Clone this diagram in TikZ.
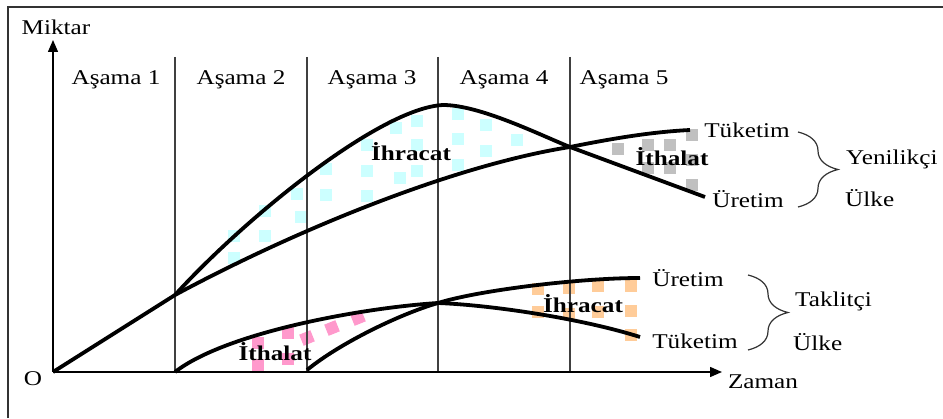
\documentclass[tikz,border=0pt]{standalone}
\usepackage{fontspec}
\setmainfont{Liberation Serif}
\usetikzlibrary{arrows.meta,decorations.pathreplacing}

\definecolor{cyanbox}{HTML}{CCFFFF}
\definecolor{graybox}{HTML}{C0C0C0}
\definecolor{pinkbox}{HTML}{FF99CC}
\definecolor{peachbox}{HTML}{FFCC99}

\tikzset{
  curve/.style={line width=3.8pt},
  stageline/.style={line width=1.2pt, black!75},
  axis/.style={line width=1.4pt, -{Triangle[length=12pt,width=10pt]}},
  lbl/.style={font=\fontsize{21}{25}\selectfont, xscale=1.2, transform shape, inner sep=0pt, anchor=base},
  boldlbl/.style={lbl, font=\fontsize{21}{25}\selectfont\bfseries},
  brc/.style={decorate, decoration={brace, amplitude=40pt}, line width=1.2pt, black!80}
}

\begin{document}
\begin{tikzpicture}[x=1pt, y=1pt]
    \useasboundingbox (0,0) rectangle (943,418);

    % frame
    \draw[line width=1.4pt, black!80] (8,0) -- (8,411) -- (943,411);

    % key points
    \coordinate (O) at (53,46);
    \coordinate (ytop) at (53,378);
    \coordinate (xend) at (722,46);
    \coordinate (A) at (175,123);
    \coordinate (P) at (443,313);
    \coordinate (X) at (570,271);
    \coordinate (Xi) at (438,115);

    % colored boxes
    \foreach \x/\y in {234/182, 234/160, 265/207, 265/182, 297/224, 301/201, 326/249, 326/223,
                       367/273, 367/247, 367/222, 396/290, 400/240, 417/297, 417/273, 417/247,
                       458/304, 458/279, 458/253, 486/293, 486/267, 517/278}
        \fill[cyanbox] (\x-6,\y-6) rectangle (\x+6,\y+6);
    \foreach \x/\y in {618/269, 648/273, 648/250, 670/273, 670/250, 692/283, 692/258, 692/233}
        \fill[graybox] (\x-6,\y-6) rectangle (\x+6,\y+6);
    \foreach \x/\y in {258/75, 258/53, 288/85, 288/59}
        \fill[pinkbox] (\x-6,\y-6) rectangle (\x+6,\y+6);
    \foreach \x/\y in {307/80, 332/90, 358/100}
        \fill[pinkbox, rotate around={22:(\x,\y)}] (\x-6,\y-6) rectangle (\x+6,\y+6);
    \foreach \x/\y in {538/129, 538/106, 569/130, 569/104, 598/132, 598/106, 631/132, 631/107, 631/83}
        \fill[peachbox] (\x-6,\y-6) rectangle (\x+6,\y+6);

    % stages
    \foreach \x in {175,307,438,570}
        \draw[stageline] (\x,361) -- (\x,46);
    \node[lbl] (s1) at (116,333) {Aşama 1};
    \node[lbl] (s2) at (241,333) {Aşama 2};
    \node[lbl] (s3) at (372,333) {Aşama 3};
    \node[lbl] (s4) at (504,333) {Aşama 4};
    \node[lbl] (s5) at (624,333) {Aşama 5};

    % axes
    \draw[axis] (O) -- (ytop);
    \draw[axis] (O) -- (xend);
    \node[lbl] (miktar) at (56,383) {Miktar};
    \node[lbl] (zaman) at (763,30) {Zaman};
    \node[lbl] (orig) at (33,33) {O};

    % innovator country
    \draw[curve] (O) -- (A);
    \draw[curve] (A) .. controls (290,185) and (450,252) .. (X)
                     .. controls (610,279) and (650,286) .. (690,288);
    \draw[curve] (A) .. controls (245,200) and (380,310) .. (P)
                     .. controls (480,313) and (540,283) .. (X) -- (705,221);

    % imitator country
    \draw[curve] (175,46) .. controls (225,85) and (360,110) .. (Xi)
                          .. controls (490,113) and (580,100) .. (640,81);
    \draw[curve] (307,48) .. controls (340,75) and (400,104) .. (Xi)
                          .. controls (480,128) and (580,140) .. (640,140);

    % trade labels
    \node[boldlbl] (exp1) at (411,257) {İhracat};
    \node[boldlbl] (imp1) at (672,252) {İthalat};
    \node[boldlbl] (imp2) at (275,57) {İthalat};
    \node[boldlbl] (exp2) at (583,105) {İhracat};

    % curve names and braces
    \node[lbl] (tuk1) at (747,280) {Tüketim};
    \node[lbl] (ure1) at (748,210) {Üretim};
    \draw[brc] (798,286) -- (798,211);
    \node[lbl, anchor=base west] (yen) at (846,253) {Yenilikçi};
    \node[lbl, anchor=base west] (ulke1) at (845,211) {Ülke};

    \node[lbl] (ure2) at (688,131) {Üretim};
    \node[lbl] (tuk2) at (695,70) {Tüketim};
    \draw[brc] (748,143) -- (748,68);
    \node[lbl, anchor=base west] (tak) at (795,111) {Taklitçi};
    \node[lbl, anchor=base west] (ulke2) at (793,67) {Ülke};

\end{tikzpicture}
\end{document}
